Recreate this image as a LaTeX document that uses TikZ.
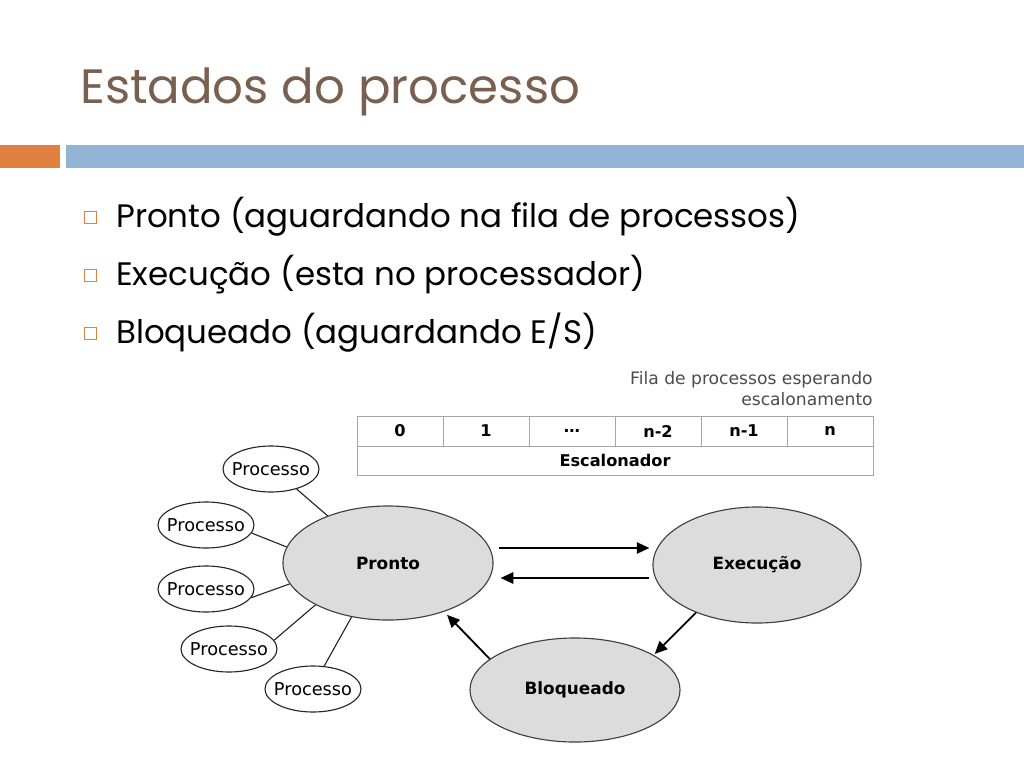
\documentclass[tikz,border=0pt]{standalone}
\usepackage{fontspec}
\newfontfamily\slidefont{Poppins}
\newfontfamily\figfont{DejaVu Sans}
\usepackage{tikz}
\usetikzlibrary{arrows.meta}
\usetikzlibrary{shapes.geometric}
\definecolor{titlebrown}{RGB}{120,95,80}
\definecolor{barorange}{RGB}{224,128,64}
\definecolor{barblue}{RGB}{146,180,212}
\definecolor{stategray}{RGB}{220,220,220}

\begin{document}
\begin{tikzpicture}[x=0.025cm,y=-0.025cm,
	state/.style={ellipse,draw=black!75,fill=stategray,thick,inner sep=0pt,font=\figfont\bfseries\fontsize{12}{14}\selectfont},
	proc/.style={ellipse,draw=black!85,fill=white,thick,inner xsep=-4.5pt,inner ysep=0pt,minimum width=2.4cm,minimum height=1.15cm,font=\figfont\fontsize{12.6}{14}\selectfont},
	cell/.style={rectangle,draw=black!35,inner sep=0pt,minimum width=2.15cm,minimum height=0.75cm,font=\figfont\bfseries\fontsize{11.5}{14}\selectfont},
	bullet/.style={rectangle,draw=barorange,fill=white,inner sep=0pt,minimum size=0.3cm},
	item/.style={anchor=base west,inner sep=0pt,font=\slidefont\fontsize{23.1}{28}\selectfont},
	arr/.style={-{Triangle[length=9pt,width=8pt]},line width=1.3pt,black}]
	\useasboundingbox (0,0) rectangle (1024,768);
	\fill[white] (0,0) rectangle (1024,768);
	% title and bars
	\node[anchor=base west,inner sep=0pt,text=titlebrown,font=\slidefont\fontsize{34.3}{40}\selectfont] (titulo) at (80,104) {Estados do processo};
	\fill[barorange] (0,145) rectangle (60,168);
	\fill[barblue] (66,145) rectangle (1024,168);
	% bullets
	\node[bullet] (b1) at (90,217) {};
	\node[item] (t1) at (116,227) {Pronto (aguardando na fila de processos)};
	\node[bullet] (b2) at (90,275) {};
	\node[item] (t2) at (116,285) {Execução (esta no processador)};
	\node[bullet] (b3) at (90,333) {};
	\node[item] (t3) at (116,343) {Bloqueado (aguardando E/S)};
	% queue
	\node[anchor=north east,align=right,inner sep=0pt,text=black!70,font=\figfont\fontsize{12.2}{15}\selectfont] (fila) at (873,371) {Fila de processos esperando\\escalonamento};
	\foreach \lab [count=\i from 0] in {0,1,\dots,n-2,n-1,n}
		\node[cell] (c\i) at (400+86*\i,431) {\lab};
	\node[cell,minimum width=12.9cm,minimum height=0.725cm] (esc) at (615,460.5) {Escalonador};
	% states
	\node[state,minimum width=5.25cm,minimum height=2.85cm] (pronto) at (388,563) {Pronto};
	\node[state,minimum width=5.2cm,minimum height=2.9cm] (execucao) at (757,565) {Execução};
	\node[state,minimum width=5.25cm,minimum height=2.6cm] (bloqueado) at (575,690) {Bloqueado};
	% processes waiting
	\foreach \n/\x/\y/\a/\b in {1/271/469/-38/142, 2/206/525/-10/171, 3/206/589/-11/-168, 4/229/649/11/210, 5/313/689/64/236}{
		\node[proc] (p\n) at (\x,\y) {Processo};
		\draw[thick,black!85] (p\n.\a) -- (pronto.\b);
	}
	% transitions
	\draw[arr] ([shift={(5,-15)}]pronto.east) -- ([shift={(-3,-17)}]execucao.west);
	\draw[arr] ([shift={(-3,13)}]execucao.west) -- ([shift={(7,15)}]pronto.east);
	\draw[arr,shorten >=1pt] (execucao.218) -- (bloqueado.24);
	\draw[arr,shorten >=3pt] (bloqueado.160) -- (pronto.-41);
\end{tikzpicture}
\end{document}
